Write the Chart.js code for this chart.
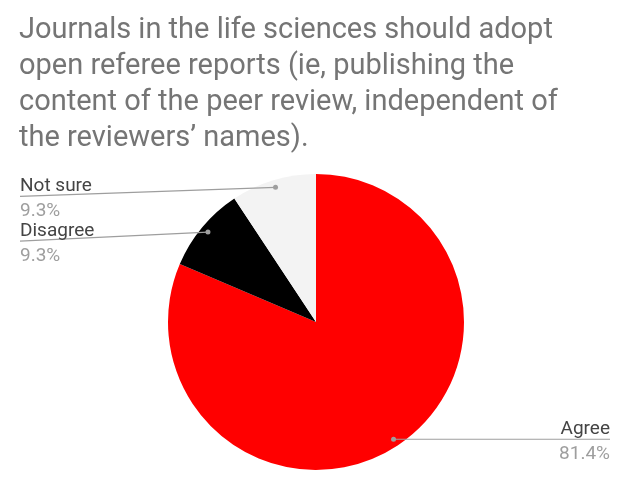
<!DOCTYPE html>
<html>
<head>
<meta charset="utf-8">
<script src="https://cdn.jsdelivr.net/npm/chart.js@4"></script>
<style>
html,body{margin:0;padding:0;background:#fff;}
#wrap{width:624px;height:489px;position:relative;}
</style>
</head>
<body>
<div id="wrap"><canvas id="pieChart"></canvas></div>
<script>
const titleLines = [
  "Journals in the life sciences should adopt",
  "open referee reports (ie, publishing the",
  "content of the peer review, independent of",
  "the reviewers\u2019 names)."
];
const categories = ["Agree", "Disagree", "Not sure"];
const shares = [81.4, 9.3, 9.3];
const percentLabels = ["81.4%", "9.3%", "9.3%"];
const sliceColors = ["#ff0000", "#000000", "#f3f3f3"];

const titlePlugin = {
  id: "titleText",
  afterDraw(chart) {
    const ctx = chart.ctx;
    ctx.save();
    ctx.fillStyle = "#757575";
    ctx.font = "29px Roboto";
    ctx.textBaseline = "alphabetic";
    ctx.textAlign = "left";
    titleLines.forEach((t, i) => ctx.fillText(t, 19, 38 + i * 36));
    ctx.restore();
  }
};

const labelPlugin = {
  id: "sliceLabels",
  afterDraw(chart) {
    const ctx = chart.ctx;
    const arcs = chart.getDatasetMeta(0).data;
    ctx.save();
    arcs.forEach((arc, i) => {
      const mid = (arc.startAngle + arc.endAngle) / 2;
      const r = arc.outerRadius * 0.95;
      const px = arc.x + Math.cos(mid) * r;
      const py = arc.y + Math.sin(mid) * r;
      const right = Math.cos(mid) > 0;
      const lx = right ? 610 : 20;
      const ly = right ? py : py + 9;
      ctx.strokeStyle = "#9e9e9e";
      ctx.lineWidth = 1.2;
      ctx.beginPath();
      ctx.moveTo(px, py);
      ctx.lineTo(lx, ly);
      ctx.stroke();
      ctx.fillStyle = "#9e9e9e";
      ctx.beginPath();
      ctx.arc(px, py, 2.5, 0, Math.PI * 2);
      ctx.fill();
      ctx.textAlign = right ? "right" : "left";
      ctx.font = "19px Roboto";
      ctx.fillStyle = "#444444";
      ctx.fillText(categories[i], lx, ly - 5);
      ctx.fillStyle = "#9e9e9e";
      ctx.fillText(percentLabels[i], lx, ly + 20);
    });
    ctx.restore();
  }
};

new Chart(document.getElementById("pieChart"), {
  type: "pie",
  data: {
    labels: categories,
    datasets: [{
      data: shares,
      backgroundColor: sliceColors,
      borderWidth: 0
    }]
  },
  options: {
    responsive: true,
    maintainAspectRatio: false,
    animation: false,
    radius: 148,
    layout: { padding: { top: 174, bottom: 19, left: 8, right: 0 } },
    plugins: {
      legend: { display: false },
      tooltip: { enabled: false }
    }
  },
  plugins: [titlePlugin, labelPlugin]
});
</script>
</body>
</html>
